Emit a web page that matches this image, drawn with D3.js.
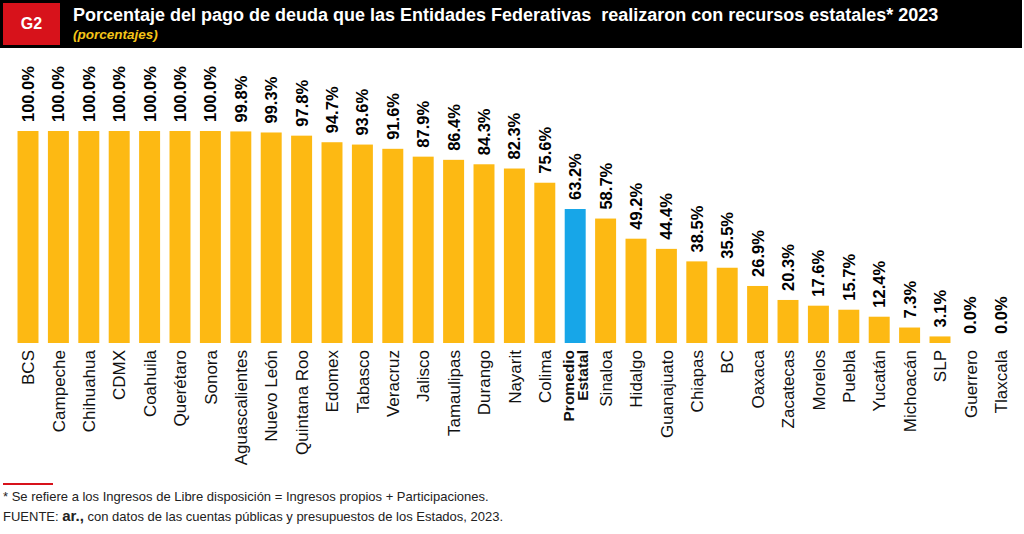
<!DOCTYPE html>
<html><head><meta charset="utf-8">
<script src="https://cdn.jsdelivr.net/npm/d3@7"></script>
<style>
html,body{margin:0;padding:0;background:#fff;}
svg{display:block;font-family:"Liberation Sans",Arial,Helvetica,sans-serif;}
</style></head>
<body>
<svg id="chart" width="1024" height="534"></svg>
<script>
const categories = ["BCS","Campeche","Chihuahua","CDMX","Coahuila","Querétaro","Sonora","Aguascalientes","Nuevo León","Quintana Roo","Edomex","Tabasco","Veracruz","Jalisco","Tamaulipas","Durango","Nayarit","Colima","Promedio Estatal","Sinaloa","Hidalgo","Guanajuato","Chiapas","BC","Oaxaca","Zacatecas","Morelos","Puebla","Yucatán","Michoacán","SLP","Guerrero","Tlaxcala"];
const values = [100.0,100.0,100.0,100.0,100.0,100.0,100.0,99.8,99.3,97.8,94.7,93.6,91.6,87.9,86.4,84.3,82.3,75.6,63.2,58.7,49.2,44.4,38.5,35.5,26.9,20.3,17.6,15.7,12.4,7.3,3.1,0.0,0.0];
const highlight = "Promedio Estatal";
const title = "Porcentaje del pago de deuda que las Entidades Federativas  realizaron con recursos estatales* 2023";
const subtitle = "(porcentajes)";
const badge = "G2";
const footnote = "* Se refiere a los Ingresos de Libre disposición = Ingresos propios + Participaciones.";
const sourceBold = "ar.,";
const sourceRest = " con datos de las cuentas públicas y presupuestos de los Estados, 2023.";

const svg = d3.select("#chart");
const data = categories.map((c,i)=>({cat:c, val:values[i]}));

// header
svg.append("rect").attr("x",0).attr("y",0).attr("width",1022).attr("height",48).attr("fill","#000");
svg.append("rect").attr("x",3).attr("y",3).attr("width",57).attr("height",42).attr("fill","#d7121b");
svg.append("text").attr("x",31.5).attr("y",29).attr("text-anchor","middle").attr("fill","#fff")
  .attr("font-weight","bold").attr("font-size",16).text(badge);
svg.append("text").attr("x",73).attr("y",21).attr("fill","#fff").attr("font-weight","bold")
  .attr("font-size",18).attr("xml:space","preserve").style("white-space","pre").text(title);
svg.append("text").attr("x",73).attr("y",39).attr("fill","#f5c518").attr("font-weight","bold")
  .attr("font-style","italic").attr("font-size",13.5).text(subtitle);

const x = d3.scaleBand().domain(categories).range([12.8,1016]).paddingInner(0.31).paddingOuter(0.155);
const y = d3.scaleLinear().domain([0,100]).range([343,131]);

svg.append("g").selectAll("rect").data(data).join("rect")
  .attr("x",d=>x(d.cat)).attr("width",x.bandwidth())
  .attr("y",d=>y(d.val)).attr("height",d=>y(0)-y(d.val))
  .attr("fill",d=>d.cat===highlight?"#17a6e8":"#fdb913");

// value labels
svg.append("g").selectAll("text").data(data).join("text")
  .attr("transform",d=>`translate(${x(d.cat)+x.bandwidth()/2},${y(d.val)-9}) rotate(-90)`)
  .attr("dy","0.36em").attr("text-anchor","start")
  .attr("font-weight","bold").attr("font-size",16.5).attr("fill","#000")
  .text(d=>d3.format(".1f")(d.val)+"%");

// category labels
const xAxis = d3.axisBottom(x).tickSize(0).tickPadding(0);
const gx = svg.append("g").attr("transform",`translate(0,${y(0)})`).call(xAxis);
gx.select(".domain").remove();
gx.selectAll(".tick text").each(function(d){
  const t = d3.select(this);
  t.attr("transform","translate(0,7) rotate(-90)").attr("text-anchor","end")
   .attr("x",0).attr("y",0).attr("dy","0.36em")
   .attr("font-size",17).attr("fill","#111").attr("font-family","Liberation Sans, Arial, sans-serif");
  if(d===highlight){
    const parts = d.split(" ");
    t.text(null).attr("font-weight","bold").attr("dy",null).attr("font-size",15.5);
    t.append("tspan").attr("x",0).attr("y",-1.5).text(parts[0]);
    t.append("tspan").attr("x",0).attr("y",12.5).text(parts[1]);
  }
});

// footer
svg.append("line").attr("x1",3).attr("x2",53).attr("y1",484).attr("y2",484).attr("stroke","#d7121b").attr("stroke-width",2);
svg.append("text").attr("x",3).attr("y",501).attr("font-size",13).attr("fill","#222").text(footnote);
const src = svg.append("text").attr("x",3).attr("y",521).attr("font-size",13).attr("fill","#222");
src.append("tspan").text("FUENTE: ");
src.append("tspan").attr("font-weight","bold").attr("font-size",15).text(sourceBold);
src.append("tspan").text(sourceRest);
</script>
</body></html>
